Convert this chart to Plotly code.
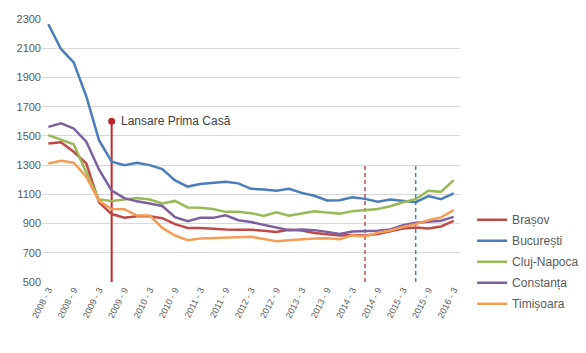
import plotly.graph_objects as go

years = list(range(2008, 2017))
categories = []
for y in years:
    for m in (3, 6, 9, 12):
        categories.append(f"{y} - {m}")
categories = categories[:categories.index("2016 - 3") + 1]

brasov = [1448, 1457, 1391, 1311, 1045, 965, 940, 950, 950, 937, 896, 870, 870, 863, 859, 857,
          858, 851, 842, 857, 852, 835, 826, 818, 821, 818, 829, 845, 866, 873, 866, 880, 919]
bucuresti = [2264, 2095, 2003, 1770, 1471, 1323, 1300, 1316, 1300, 1273, 1195, 1153, 1170, 1179, 1186, 1175,
             1138, 1133, 1124, 1138, 1110, 1090, 1058, 1060, 1080, 1069, 1050, 1064, 1055, 1046, 1088, 1067, 1106]
cluj = [1505, 1471, 1442, 1250, 1065, 1055, 1066, 1074, 1065, 1037, 1055, 1010, 1008, 999, 980, 980,
        971, 952, 977, 954, 969, 984, 975, 968, 985, 992, 999, 1019, 1046, 1067, 1124, 1117, 1197]
constanta = [1562, 1586, 1551, 1460, 1270, 1125, 1074, 1052, 1037, 1020, 944, 916, 939, 939, 957, 923,
             910, 893, 872, 855, 859, 855, 843, 828, 846, 849, 850, 860, 889, 905, 912, 919, 946]
timisoara = [1311, 1329, 1316, 1220, 1055, 999, 998, 955, 955, 870, 818, 786, 797, 800, 804, 810,
             809, 795, 779, 785, 792, 797, 800, 793, 819, 811, 837, 852, 877, 896, 923, 942, 992]

series = [
    ("Brașov", brasov, "#be4b48"),
    ("București", bucuresti, "#4a7ebb"),
    ("Cluj-Napoca", cluj, "#98b954"),
    ("Constanța", constanta, "#7d60a0"),
    ("Timișoara", timisoara, "#f59d56"),
]

# event markers
prima_casa_cat = "2009 - 6"
prima_casa_top = 1600
prima_casa_label = "Lansare Prima Casă"
red_dash_cat = "2014 - 6"
blue_dash_cat = "2015 - 6"
dash_top = 1300
y_min, y_max = 500, 2300

fig = go.Figure()

# vertical marker lines
fig.add_trace(go.Scatter(x=[prima_casa_cat, prima_casa_cat], y=[y_min, prima_casa_top],
                         mode="lines", line=dict(color="#c0272d", width=2),
                         showlegend=False, hoverinfo="skip"))
fig.add_trace(go.Scatter(x=[prima_casa_cat], y=[prima_casa_top], mode="markers",
                         marker=dict(color="#c0272d", size=7),
                         showlegend=False, hoverinfo="skip"))
fig.add_trace(go.Scatter(x=[red_dash_cat, red_dash_cat], y=[y_min, dash_top],
                         mode="lines", line=dict(color="#c0504d", width=1.5, dash="4px,3px"),
                         showlegend=False, hoverinfo="skip"))
fig.add_trace(go.Scatter(x=[blue_dash_cat, blue_dash_cat], y=[y_min, dash_top],
                         mode="lines", line=dict(color="#4a7ebb", width=1.5, dash="4px,3px"),
                         showlegend=False, hoverinfo="skip"))

for name, vals, color in series:
    fig.add_trace(go.Scatter(x=categories, y=vals, mode="lines", name=name,
                             legendgroup=name,
                             line=dict(color=color, width=2.5)))

fig.add_annotation(x=prima_casa_cat, y=prima_casa_top, text=prima_casa_label,
                   showarrow=False, xanchor="left", yanchor="middle", xshift=7,
                   font=dict(size=12, color="#404040"))

tickvals = categories[::2]

fig.update_layout(
    width=586, height=353,
    margin=dict(l=42, r=126, t=19, b=71, autoexpand=False),
    paper_bgcolor="white", plot_bgcolor="white",
    font=dict(family="Liberation Sans, Arial, sans-serif", color="#595959"),
    xaxis=dict(type="category", categoryorder="array", categoryarray=categories,
               tickmode="array", tickvals=tickvals, ticktext=tickvals,
               tickangle=-63, tickfont=dict(size=9, color="#595959"),
               showgrid=False, showline=False, ticks="",
               range=[-0.5, len(categories) - 0.5], automargin=False),
    yaxis=dict(range=[y_min, y_max], tickmode="array",
               tickvals=list(range(y_min, y_max + 1, 200)),
               showgrid=True, gridcolor="#d9d9d9", gridwidth=1,
               zeroline=False, showline=False, ticks="",
               tickfont=dict(size=11, color="#595959"), automargin=False),
    legend=dict(x=1.029, xanchor="left", y=0.077, yanchor="middle",
                font=dict(size=12, color="#595959"), bgcolor="rgba(0,0,0,0)",
                tracegroupgap=2, traceorder="grouped"),
    showlegend=True,
)

fig.write_html("out.html")
